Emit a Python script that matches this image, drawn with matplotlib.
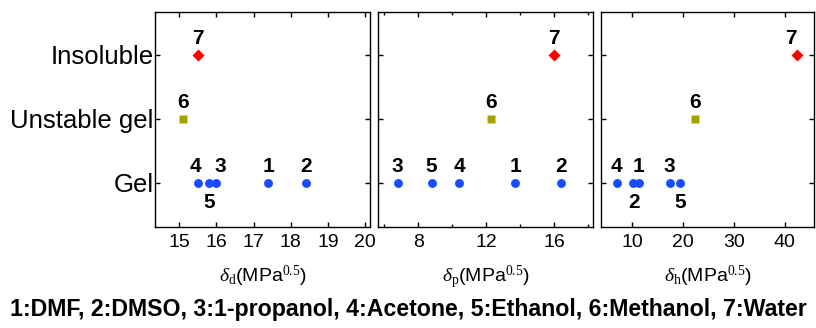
import matplotlib

matplotlib.use("Agg")
import matplotlib.pyplot as plt
from matplotlib.ticker import MultipleLocator

# Hansen solubility parameters (MPa^0.5) for solvents 1..7
SOLVENT_IDS = ["1", "2", "3", "4", "5", "6", "7"]
DELTA_D = [17.4, 18.4, 16.0, 15.5, 15.8, 15.1, 15.5]
DELTA_P = [13.7, 16.4, 6.8, 10.4, 8.8, 12.3, 16.0]
DELTA_H = [11.3, 10.2, 17.4, 7.0, 19.4, 22.3, 42.3]
STATE = [1, 1, 1, 1, 1, 2, 3]  # 1 = Gel, 2 = Unstable gel, 3 = Insoluble
STATE_LABELS = ["Gel", "Unstable gel", "Insoluble"]
LEGEND_TEXT = "1:DMF, 2:DMSO, 3:1-propanol, 4:Acetone, 5:Ethanol, 6:Methanol, 7:Water"

STYLE = {
    1: dict(marker="o", color="#1a4cff", ms=6.4),
    2: dict(marker="s", color="#a3a300", ms=5.8),
    3: dict(marker="D", color="#ff0000", ms=6.6),
}

# label offsets in points per panel (dx, dy); default above the point
LABEL_OFFSETS = [
    {"4": (-2, 12), "5": (0, -14), "3": (3, 12)},
    {},
    {"2": (1, -14), "5": (0, -14), "7": (-4, 12)},
]

plt.rcParams.update(
    {
        "font.family": ["Liberation Sans", "DejaVu Sans"],
        "mathtext.fontset": "custom",
        "mathtext.rm": "Liberation Serif",
        "mathtext.it": "Liberation Serif:italic",
        "axes.linewidth": 1.0,
        "xtick.direction": "in",
        "ytick.direction": "in",
        "xtick.top": True,
        "ytick.right": True,
    }
)

fig = plt.figure(figsize=(8.16, 3.28), dpi=100)
bottom, height = 0.308, 0.655
panels = [
    (0.190, 0.2635, DELTA_D, (14.35, 20.13), "d", 1, None),
    (0.4635, 0.263, DELTA_P, (5.66, 18.26), "p", 4, 2),
    (0.7365, 0.261, DELTA_H, (3.93, 45.7), "h", 10, None),
]

for i, (left, width, xs, xlim, sub, major, minor) in enumerate(panels):
    ax = fig.add_axes([left, bottom, width, height])
    for sid, x, st in zip(SOLVENT_IDS, xs, STATE):
        ax.plot(x, st, linestyle="none", mec="none", **STYLE[st])
        dx, dy = LABEL_OFFSETS[i].get(sid, (0, 12))
        ax.annotate(sid, (x, st), xytext=(dx, dy), textcoords="offset points",
                    ha="center", va="center", fontsize=15, fontweight="bold")
    ax.set_xlim(*xlim)
    ax.set_ylim(0.31, 3.67)
    ax.xaxis.set_major_locator(MultipleLocator(major))
    if minor:
        ax.xaxis.set_minor_locator(MultipleLocator(minor))
    ax.set_yticks([1, 2, 3])
    if i == 0:
        ax.set_yticklabels(STATE_LABELS)
    else:
        ax.set_yticklabels([])
    ax.tick_params(which="major", length=3.8, width=1.0, labelsize=14, pad=5)
    ax.tick_params(axis="y", which="major", labelsize=18.5, pad=1)
    ax.tick_params(which="minor", length=2.0, width=1.0)
    ax.set_xlabel(r"$\delta_\mathrm{" + sub + r"}$(MPa$^{0.5}$)", fontsize=14, labelpad=9)

fig.text(0.5, 0.055, LEGEND_TEXT, ha="center", va="center", fontsize=16.7, fontweight="bold")

fig.savefig("out.png", dpi=100)
